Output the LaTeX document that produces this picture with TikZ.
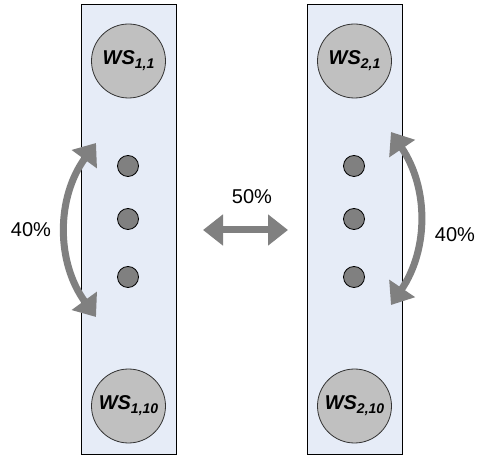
\documentclass[tikz,border=0pt]{standalone}
\usepackage{fontspec}
\setmainfont{Liberation Sans}
\usetikzlibrary{arrows.meta}
\definecolor{colbg}{RGB}{230,236,247}
\definecolor{wsgray}{RGB}{192,192,192}
\definecolor{dotgray}{RGB}{128,128,128}
\definecolor{arrgray}{RGB}{128,128,128}
\tikzset{
  column/.style={draw=black, line width=1pt, fill=colbg},
  wsnode/.style={circle, draw=black!80, line width=0.8pt, fill=wsgray, minimum size=74pt, inner sep=0pt,
    font=\fontsize{20}{24}\selectfont\bfseries\itshape},
  dotnode/.style={circle, draw=black, line width=0.8pt, fill=dotgray, minimum size=21pt, inner sep=0pt},
  bigarrow/.style={draw=arrgray, line width=7pt, {Triangle[length=20pt,width=30pt]}-{Triangle[length=20pt,width=30pt]}},
  pct/.style={font=\fontsize{20}{24}\selectfont, inner sep=0pt}
}
\newcommand{\wslab}[1]{WS\raisebox{-4pt}{\fontsize{14}{14}\selectfont #1}}
\begin{document}
\begin{tikzpicture}[x=1pt,y=1pt]
\useasboundingbox (0,0) rectangle (479,455);
% columns
\draw[column] (81,1) rectangle (176,450);
\draw[column] (307,1) rectangle (402,450);
% WS nodes
\node[wsnode] (w11) at (128.5,394) {\wslab{1,1}};
\node[wsnode] (w110) at (128.5,49) {\wslab{1,10}};
\node[wsnode] (w21) at (354.5,394) {\wslab{2,1}};
\node[wsnode] (w210) at (354.5,49) {\wslab{2,10}};
% dots
\node[dotnode] (d1a) at (128,289) {};
\node[dotnode] (d1b) at (128,236) {};
\node[dotnode] (d1c) at (128,178) {};
\node[dotnode] (d2a) at (354,289) {};
\node[dotnode] (d2b) at (354,236) {};
\node[dotnode] (d2c) at (354,178) {};
% arrow endpoints
\coordinate (la) at (96,312);
\coordinate (lb) at (96,138);
\coordinate (ra) at (391,323);
\coordinate (rb) at (391,150);
\coordinate (ma) at (203,225);
\coordinate (mb) at (288,225);
% arrows
\draw[bigarrow] (la) to[bend right=36] (lb);
\draw[bigarrow] (ra) to[bend left=34] (rb);
\draw[bigarrow] (ma) -- (mb);
% labels
\node[pct] (l40) at (31,225) {40\%};
\node[pct] (r40) at (455,220) {40\%};
\node[pct] (m50) at (252,258) {50\%};
\end{tikzpicture}
\end{document}
